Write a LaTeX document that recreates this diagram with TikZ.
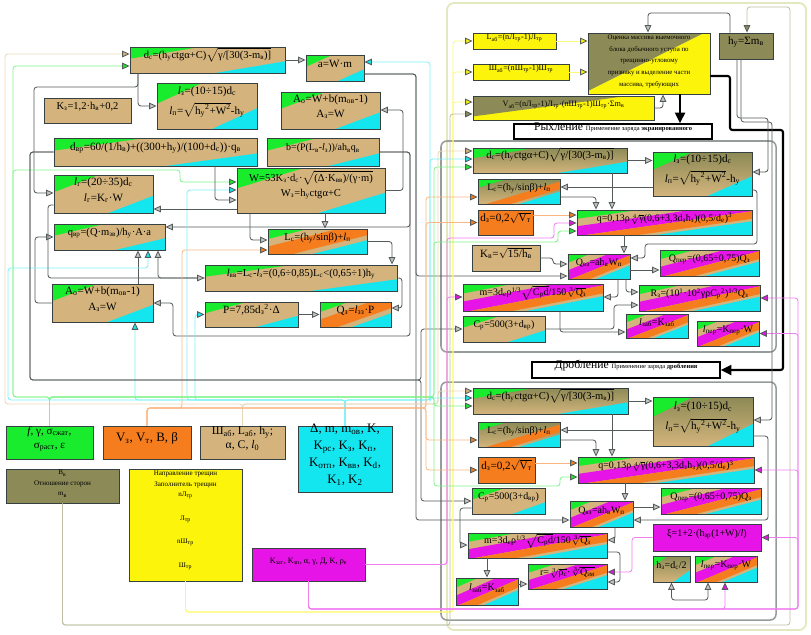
\documentclass[tikz,border=0pt]{standalone}
\usepackage{fontspec}
\setmainfont{Liberation Serif}
\usepackage{tikz}
\usetikzlibrary{arrows.meta,positioning,fit,calc}
\definecolor{tanc}{RGB}{212,180,124}
\definecolor{grn}{RGB}{25,235,45}
\definecolor{cyn}{RGB}{20,230,240}
\definecolor{org}{RGB}{245,125,30}
\definecolor{mag}{RGB}{230,20,230}
\definecolor{olv}{RGB}{140,138,86}
\definecolor{ylw}{RGB}{252,244,10}
\definecolor{lnc}{RGB}{85,90,90}
\definecolor{boxline}{RGB}{55,65,65}
\definecolor{frmc}{RGB}{150,155,155}
\definecolor{bigc}{RGB}{228,232,190}
\newcommand{\sbs}[1]{\textsubscript{#1}}
\newcommand{\sps}[1]{\textsuperscript{#1}}
\newcommand{\il}{\textit{l}}
\newcommand{\fs}{\fontsize{9.5}{13}\selectfont}
\newcommand{\fsm}{\fontsize{8.5}{10}\selectfont}
\newcommand{\fss}{\fontsize{7}{8}\selectfont}
\newcommand{\cband}[3]{\fill[#1] let \p1=(path picture bounding box.south west), \p2=(path picture bounding box.north east) in
  ({\x1+(#2-0.5)*(\x2-(\x1))},\y1) -- ({\x1+(#2+0.5)*(\x2-(\x1))},\y2) -- ({\x1+(#3+0.5)*(\x2-(\x1))},\y2) -- ({\x1+(#3-0.5)*(\x2-(\x1))},\y1) -- cycle;}

\begin{document}
\begin{tikzpicture}[x=0.3mm, y=-0.3mm,
  box/.style={draw=boxline, line width=0.8pt, inner sep=0pt, align=center, font=\fs},
  gc/.style={box, fill=tanc, path picture={\cband{grn}{-1}{-0.05}\cband{cyn}{1.05}{2}}},
  gco/.style={box, fill=tanc, path picture={\cband{grn}{-1}{-0.1}\cband{org}{0.2}{0.75}\cband{cyn}{0.95}{2}}},
  gmoc/.style={box, font=\fsm, fill=tanc, path picture={\cband{grn}{-1}{-0.15}\cband{mag}{0.15}{0.55}\cband{org}{0.55}{0.85}\cband{cyn}{0.95}{2}}},
  ogc/.style={box, top color=olv, bottom color=tanc, path picture={\cband{grn}{-1}{-0.1}\cband{cyn}{1.05}{2}}},
  ogco/.style={box, font=\fsm, top color=olv, bottom color=tanc, path picture={\cband{grn}{-1}{-0.15}\cband{org}{0.6}{0.9}\cband{cyn}{1}{2}}},
  oy/.style={box, fill=ylw, path picture={\cband{olv}{-1}{#1}}},
  plain/.style={box, fill=#1},
  lbl/.style={draw=black, line width=1.2pt, fill=white, inner sep=0pt},
  arr/.style={draw=lnc, line width=0.7pt, rounded corners=2.5pt, >={Triangle[length=2.2mm,width=2mm,fill=gray!45,color=lnc]}, ->},
  dbl/.style={arr, <->},
  bus/.style={arr, draw=#1!55!white, >={Triangle[length=2.2mm,width=2mm,fill=#1,color=lnc]}},
  thk/.style={draw=black, line width=1.8pt, rounded corners=2pt, -{Triangle[length=3.2mm,width=3mm]}},
  frm/.style={draw=frmc, line width=1.3pt, rounded corners=5pt},
  bigframe/.style={draw=bigc, line width=1.6pt, rounded corners=6pt}]
\useasboundingbox (0,0) rectangle (811,634);

\draw[bigframe] (447,3) rectangle (806,630);
\draw[frm] (441,141) rectangle (776,352);
\draw[frm] (441,382) rectangle (776,620);

% left block
\node[gc, font=\fontsize{9}{11}\selectfont, fit={(130,47) (285,73)}] (dc) {d\sbs{с}=(h\sbs{у}ctgα+C)$\sqrt{\mbox{γ/[30(3-m\sbs{в})]}}$};
\node[gc, fit={(306,55) (364,81)}] (am) {a=W·m};
\node[gc, fit={(157,83) (257,129)}] (lz) {\il\sbs{з}=(10÷15)d\sbs{с}\\[4pt]\il\sbs{п}=$\sqrt{\mbox{h\sbs{у}\sps{2}+W\sps{2}}}$-h\sbs{у}};
\node[gc, fit={(281,92) (380,129)}] (Ao) {A\sbs{о}=W+b(m\sbs{ов}-1)\\A\sbs{з}=W};
\node[plain=tanc, font=\fontsize{9}{11}\selectfont, fit={(44,98) (131,123)}] (Kz) {K\sbs{з}=1,2·h\sbs{в}+0,2};
\node[gc, fit={(54,138) (257,166)}] (dvr) {d\sbs{вр}=60/(1/h\sbs{в})+((300+h\sbs{у})/(100+d\sbs{с}))·q\sbs{в}};
\node[gc, font=\fsm, fit={(267,138) (379,166)}] (bb) {b=(P(L\sbs{в}-\il\sbs{з}))/ah\sbs{в}q\sbs{в}};
\node[gc, fit={(54,175) (153,213)}] (lg) {\il\sbs{г}=(20÷35)d\sbs{с}\\\il\sbs{г}=K\sbs{г}·W};
\node[gc, font=\fontsize{9}{13}\selectfont, fit={(237,168) (385,213)}] (W) {W=53K\sbs{з}·d\sbs{с}·$\sqrt{\mbox{(Δ·K\sbs{вв})/(γ·m)}}$\\W\sbs{з}=h\sbs{у}ctgα+C};
\node[gc, font=\fontsize{9}{11}\selectfont, fit={(54,224) (165,250)}] (qvr) {q\sbs{вр}=(Q·m\sbs{зв})/h\sbs{у}·A·a};
\node[gco, font=\fontsize{9}{11}\selectfont, fit={(268,229) (367,254)}] (Lc) {L\sbs{с}=(h\sbs{у}/sinβ)+\il\sbs{п}};
\node[gc, font=\fontsize{9}{11}\selectfont, fit={(205,265) (397,291)}] (lvv) {\il\sbs{вв}=L\sbs{с}-\il\sbs{з}=(0,6÷0,85)L\sbs{с}<(0,65÷1)h\sbs{у}};
\node[gc, fit={(52,284) (153,322)}] (Ao2) {A\sbs{о}=W+b(m\sbs{ов}-1)\\A\sbs{з}=W};
\node[gc, fit={(205,302) (298,327)}] (P) {P=7,85d\sbs{з}\sps{2}·Δ};
\node[gco, fit={(320,302) (391,327)}] (Qz) {Q\sbs{з}=\il\sbs{зз}·P};

% top right
\node[plain=ylw, font=\fss, fit={(473,33) (556,49)}] (Lab) {L\sbs{аб}=(nЛ\sbs{тр}-1)Л\sbs{тр}};
\node[plain=ylw, font=\fss, fit={(473,64) (569,80)}] (Shab) {Ш\sbs{аб}=(nШ\sbs{тр}-1)Ш\sbs{тр}};
\node[oy=0.35, font=\fss, fit={(473,96) (654,120)}] (Vab) {V\sbs{аб}=(nЛ\sbs{тр}-1)Л\sbs{тр}·(nШ\sbs{тр}-1)Ш\sbs{тр}·Σm\sbs{в}};
\node[oy=0.45, font=\fontsize{5.8}{10}\selectfont, fit={(588,33) (710,94)}] (Ots) {Оценка массива выемочного\\блока добычного уступа по\\трещинно-угловому\\признаку и выделение части\\массива, требующих};
\node[plain=olv, fit={(719,33) (773,59)}] (hy) {h\sbs{у}=Σm\sbs{в}};
\node[lbl, fit={(514,124) (712,139)}] (ryhl) {{\fontsize{10}{10}\selectfont Рыхление} {\fontsize{5.5}{6}\selectfont Применение заряда \textbf{экранированного}}};

% loosening block
\node[ogc, font=\fontsize{9}{11}\selectfont, fit={(473,148) (627,173)}] (dc2) {d\sbs{с}=(h\sbs{у}ctgα+C)$\sqrt{\mbox{γ/[30(3-m\sbs{в})]}}$};
\node[ogc, fit={(653,152) (752,196)}] (lz2) {\il\sbs{з}=(10÷15)d\sbs{с}\\[4pt]\il\sbs{п}=$\sqrt{\mbox{h\sbs{у}\sps{2}+W\sps{2}}}$-h\sbs{у}};
\node[ogco, fit={(478,179) (560,204)}] (Lc2) {L\sbs{с}=(h\sbs{у}/sinβ)+\il\sbs{п}};
\node[plain=org, fit={(478,210) (533,235)}] (dz2) {d\sbs{з}=0,2$\sqrt{\mbox{V\sbs{т}}}$};
\node[gmoc, fit={(577,210) (752,235)}] (q2) {q=0,13ρ$\sqrt[4]{\mbox{γ}}$(0,6+3,3d\sbs{з}h\sbs{з})(0,5/d\sbs{е})\sps{3}};
\node[plain=tanc, fit={(472,245) (540,271)}] (Kv2) {K\sbs{в}=$\sqrt{\mbox{15/h\sbs{в}}}$};
\node[gmoc, fit={(568,254) (630,279)}] (Qvz2) {Q\sbs{вз}=ah\sbs{в}W\sbs{п}};
\node[gmoc, fit={(660,250) (759,276)}] (Qper2) {Q\sbs{пер}=(0,65÷0,75)Q\sbs{з}};
\node[gmoc, fit={(463,284) (603,311)}] (m2) {m=3d\sbs{е}ρ\sps{1/3}$\sqrt{\mbox{C\sbs{р}d}}$/150$\sqrt[3]{\mbox{Q\sbs{з}}}$};
\node[gmoc, fit={(639,285) (760,311)}] (Rz2) {R\sbs{з}=(10\sps{1}·10\sps{2}γρC\sbs{р}\sps{2})\sps{1/3}Q\sbs{з}};
\node[gc, font=\fsm, fit={(463,316) (545,342)}] (Cp2) {C\sbs{р}=500(3+d\sbs{вр})};
\node[gmoc, fit={(626,314) (688,338)}] (lzab2) {\il\sbs{заб}=K\sbs{заб}};
\node[gmoc, fit={(697,321) (759,346)}] (lper2) {\il\sbs{пер}=K\sbs{пер}·W};
\node[lbl, fit={(532,362) (720,378)}] (drob) {{\fontsize{10}{10}\selectfont Дробление} {\fontsize{5.5}{6}\selectfont Применение заряда \textbf{дробления}}};

% crushing block
\node[ogc, font=\fontsize{9}{11}\selectfont, fit={(473,388) (628,414)}] (dc3) {d\sbs{с}=(h\sbs{у}ctgα+C)$\sqrt{\mbox{γ/[30(3-m\sbs{в})]}}$};
\node[ogc, fit={(653,397) (753,446)}] (lz3) {\il\sbs{з}=(10÷15)d\sbs{с}\\[4pt]\il\sbs{п}=$\sqrt{\mbox{h\sbs{у}\sps{2}+W\sps{2}}}$-h\sbs{у}};
\node[ogco, fit={(478,422) (560,447)}] (Lc3) {L\sbs{с}=(h\sbs{у}/sinβ)+\il\sbs{п}};
\node[plain=org, fit={(478,457) (535,483)}] (dz3) {d\sbs{з}=0,2$\sqrt{\mbox{V\sbs{т}}}$};
\node[gmoc, fit={(578,457) (754,483)}] (q3) {q=0,13ρ$\sqrt[4]{\mbox{γ}}$(0,6+3,3d\sbs{з}h\sbs{з})(0,5/d\sbs{е})\sps{3}};
\node[gc, font=\fsm, fit={(472,488) (545,514)}] (Cp3) {C\sbs{р}=500(3+d\sbs{вр})};
\node[gmoc, fit={(570,501) (633,527)}] (Qvz3) {Q\sbs{вз}=ah\sbs{в}W\sbs{п}};
\node[gmoc, fit={(661,488) (761,514)}] (Qper3) {Q\sbs{пер}=(0,65÷0,75)Q\sbs{з}};
\node[gmoc, fit={(468,533) (607,558)}] (m3) {m=3d\sbs{е}ρ\sps{1/3}$\sqrt{\mbox{C\sbs{р}d}}$/150$\sqrt[3]{\mbox{Q\sbs{з}}}$};
\node[plain=mag, font=\fsm, fit={(653,524) (761,551)}] (xi) {ξ=1+2·(h\sbs{зр}(1+W)/\il)};
\node[gmoc, fit={(456,578) (518,605)}] (lzab3) {\il\sbs{заб}=K\sbs{заб}};
\node[gmoc, fit={(528,564) (607,589)}] (r3) {r=$\sqrt[3]{\mbox{ρ\sbs{с}}}$·$\sqrt[3]{\mbox{Q\sbs{зм}}}$};
\node[ogc, font=\fsm, fit={(653,556) (690,582)}] (hz3) {h\sbs{з}=d\sbs{с}/2};
\node[gmoc, fit={(695,556) (757,582)}] (lper3) {\il\sbs{пер}=K\sbs{пер}·W};

% inputs
\node[plain=grn, font=\fontsize{9.5}{12}\selectfont, fit={(6,426) (93,459)}] (inG) {\textit{f}, γ, σ\sbs{сжат},\\σ\sbs{раст}, ε};
\node[plain=org, font=\fontsize{11}{13}\selectfont, fit={(103,426) (191,459)}] (inO) {V\sbs{з}, V\sbs{т}, B, β};
\node[plain=tanc, font=\fontsize{10}{12}\selectfont, fit={(200,426) (285,459)}] (inT) {Ш\sbs{аб}, L\sbs{аб}, h\sbs{у};\\α, C, \il\sbs{0}};
\node[plain=cyn, font=\fontsize{11}{14.5}\selectfont, fit={(298,426) (392,492)}] (inC) {Δ, m, m\sbs{ов}, K,\\K\sbs{рс}, K\sbs{з}, K\sbs{п},\\K\sbs{отп}, K\sbs{вв}, K\sbs{d},\\K\sbs{1}, K\sbs{2}};
\node[plain=olv, font=\fontsize{6}{9}\selectfont, fit={(6,469) (119,503)}] (inOl) {B\sbs{к}\\Отношение сторон\\m\sbs{в}};
\node[plain=ylw, fit={(129,469) (242,581)}, label={[font=\fontsize{6}{9}\selectfont, align=center, anchor=north, inner sep=2pt]north:{Направление трещин\\Заполнитель трещин\\nЛ\sbs{тр}\\[11pt]Л\sbs{тр}\\[11pt]nШ\sbs{тр}\\[11pt]Ш\sbs{тр}}}] (inY) {};
\node[plain=mag, font=\fss, fit={(252,548) (365,581)}] (inM) {K\sbs{зат}, K\sbs{зп}, α, γ, Д, K, ρ\sbs{е}};

% left connectors
\draw[bus=grn] (inG.north) |- (13,397) |- (dc.west|-0,66);
\draw[bus=tanc] (inT.north) |- (5,404) |- (dc.west|-0,54);
\draw[arr] (dc.south-|138,0) |- (lz.west);
\draw[arr] (dc.south-|138,0) |- (34,87) |- (lg.west|-0,193);
\draw[arr] (dc.east) -- (dc.east-|am.west);
\draw[bus=cyn] (inC.north) |- (430,400) |- (am.east|-0,62);
\draw[arr] (am.east|-0,74) -| (416,276) -- (Qvz2.west|-0,276);
\draw[arr] (am.east|-0,74) -| (416,520) -- (Qvz3.west|-0,520);
\draw[arr] (W.east) -| (403,110) -- (Ao.east|-0,110);
\draw[arr] (bb.east) -| (410,336) -| (173,303) -- (Ao2.east|-0,303);
\draw[arr] (bb.east) -| (410,227) -- (qvr.east|-0,227);
\draw[bus=grn] (inG.north) |- (13,397) |- (180,170) |- (W.west|-0,182);
\draw[bus=cyn] (inC.north) |- (187,400) |- (W.west|-0,190);
\draw[arr] (dvr.south-|215,0) |- (W.west|-0,200);
\draw[arr] (W.west|-0,209) -- (lg.east|-0,209);
\draw[arr] (Ao2.west) -| (35,260) |- (qvr.west);
\draw[arr] (Ao2.north-|138,0) -- (qvr.south-|138,0);
\draw[bus=cyn] (inC.north) |- (8,400) |- (148,268) -- (qvr.south-|148,0);
\draw[arr] (lvv.west) -| (qvr.south-|158,0);
\draw[arr] (lg.west|-0,205) -| (48,278) -- (lvv.west);
\draw[bus=org] (inO.north) |- (182,408) |- (Lc.west|-0,250);
\draw[arr] (W.south-|250,0) |- (Lc.west|-0,240);
\draw[arr] (W.south-|325,0) -- (Lc.north-|325,0);
\draw[arr] (Lc.east) -| (lvv.north-|392,0);
\draw[arr] (lvv.east) -| (402,308) -- (Qz.east|-0,308);
\draw[arr] (P.east) -- (Qz.west);
\draw[bus=cyn] (inC.north) |- (195,400) |- (P.west);
\draw[bus=cyn] (inC.north) |- (135,400) -- (Ao2.south-|135,0);
\draw[arr] (dvr.west) -| (30,380) -| (421,329) -- (Cp2.west|-0,329);
\draw[arr] (dvr.west) -| (30,380) -| (421,501) -- (Cp3.west);

% top right connectors
\draw[bus=ylw] (inY.south) |- (453,612) |- (Lab.west);
\draw[bus=ylw] (inY.south) |- (453,612) |- (Shab.west);
\draw[bus=ylw] (inY.south) |- (453,612) |- (Vab.west|-0,102);
\draw[bus=olv] (inOl.south) |- (450,625) |- (Vab.west|-0,114);
\draw[bus=ylw] (Lab.east) -- (Lab.east-|Ots.west);
\draw[bus=ylw] (Shab.east) -- (Shab.east-|Ots.west);
\draw[arr] (Vab.east) -| (Ots.south-|663,0);
\draw[arr] (hy.north-|730,0) |- (648,13) -- (Ots.north-|648,0);
\draw[bus=olv] (inOl.south) |- (790,625) |- (747,7) -- (hy.north-|747,0);
\draw[thk] (Ots.south-|680,0) -- (ryhl.north-|680,0);
\draw[thk] (Ots.east|-0,76) -| (730,130) -| (783,370) -- (drob.east|-0,370);

% loosening connectors
\draw[bus=tanc] (inT.north) |- (438,404) |- (dc2.west|-0,151);
\draw[bus=cyn] (inC.north) |- (430,400) |- (dc2.west|-0,159);
\draw[bus=grn] (inG.north) |- (434,397) |- (dc2.west|-0,167);
\draw[bus=org] (inO.north) |- (426,408) |- (Lc2.west|-0,197);
\draw[bus=org] (inO.north) |- (426,408) |- (dz2.west);
\draw[arr] (dc2.east) -- (dc2.east-|lz2.west);
\draw[arr] (dc2.south-|612,0) -- (q2.north-|612,0);
\draw[arr] (lz2.west|-0,187) -- (Lc2.east|-0,187);
\draw[arr] (Lc2.east|-0,197) -| (q2.north-|596,0);
\draw[bus=org] (dz2.east|-0,215) -- (q2.west|-0,215);
\draw[bus=mag] (inM.east) -| (447,238) -| (554,223) -- (q2.west|-0,223);
\draw[bus=grn] (inG.north) |- (434,397) |- (558,242) |- (q2.west|-0,231);
\draw[arr] (q2.south-|624,0) -- (Qvz2.north-|624,0);
\draw[arr] (Kv2.east) -| (553,264) -- (Qvz2.west|-0,264);
\draw[arr] (Qvz2.east|-0,270) -- (Qper2.west|-0,270);
\draw[arr] (lz2.east|-0,190) -| (757,244) -| (645,258) -- (Qvz2.east|-0,258);
\draw[arr] (Qvz2.south-|618,0) |- (m2.east|-0,297);
\draw[arr] (Qvz2.south-|626,0) |- (Rz2.west|-0,292);
\draw[arr] (Cp2.east) -| (614,305) -- (Rz2.west|-0,305);
\draw[arr] (m2.south-|560,0) |- (lzab2.west|-0,332);
\draw[bus=mag] (inM.east) -| (447,297) -- (m2.west|-0,297);
\draw[arr] (hy.south-|737,0) |- (768,118) |- (lz2.east|-0,172);
\draw[bus=mag] (inM.south) |- (798,609) |- (Rz2.east);
\draw[bus=mag] (inM.south) |- (798,609) |- (lper2.east);

% crushing connectors
\draw[bus=tanc] (inT.north) |- (438,404) |- (dc3.west|-0,391);
\draw[bus=cyn] (inC.north) |- (430,400) |- (dc3.west|-0,398);
\draw[bus=grn] (inG.north) |- (434,397) |- (dc3.west|-0,406);
\draw[bus=org] (inO.north) |- (426,408) |- (Lc3.west|-0,440);
\draw[bus=org] (inO.north) |- (426,408) |- (dz3.west);
\draw[arr] (dc3.east) -- (dc3.east-|lz3.west);
\draw[arr] (dc3.south-|612,0) -- (q3.north-|612,0);
\draw[arr] (lz3.west|-0,430) -- (Lc3.east|-0,430);
\draw[arr] (Lc3.east|-0,440) -| (q3.north-|596,0);
\draw[bus=org] (dz3.east|-0,463) -- (q3.west|-0,463);
\draw[bus=grn] (inG.north) |- (434,397) |- (560,486) |- (q3.west|-0,477);
\draw[arr] (q3.south-|625,0) -- (Qvz3.north-|625,0);
\draw[arr] (Qvz3.east|-0,507) -- (Qper3.west|-0,507);
\draw[arr] (lz3.east|-0,436) -| (768,520) -- (Qvz3.east|-0,520);
\draw[arr] (Qvz3.south-|615,0) |- (m3.east|-0,540);
\draw[arr] (m3.east|-0,552) -| (620,582) -- (r3.east|-0,582);
\draw[bus=mag] (xi.west) -| (632,572) -- (r3.east|-0,572);
\draw[dbl] (hz3.south) |- (708,600) -- (lper3.south-|708,0);
\draw[bus=mag] (inM.south) |- (725,609) -- (lper3.south-|725,0);
\draw[arr] (m3.south-|487,0) -- (lzab3.north-|487,0);
\draw[arr] (lzab3.east|-0,584) -- (r3.west|-0,584);
\draw[arr] (Cp3.west|-0,508) -| (460,545) -- (m3.west|-0,545);
\draw[bus=mag] (inM.south) |- (798,609) |- (q3.east);
\draw[bus=mag] (inM.south) |- (798,609) |- (xi.east);
\draw[arr] (hy.south-|741,0) |- (772,122) |- (lz3.east|-0,420);
\end{tikzpicture}
\end{document}
